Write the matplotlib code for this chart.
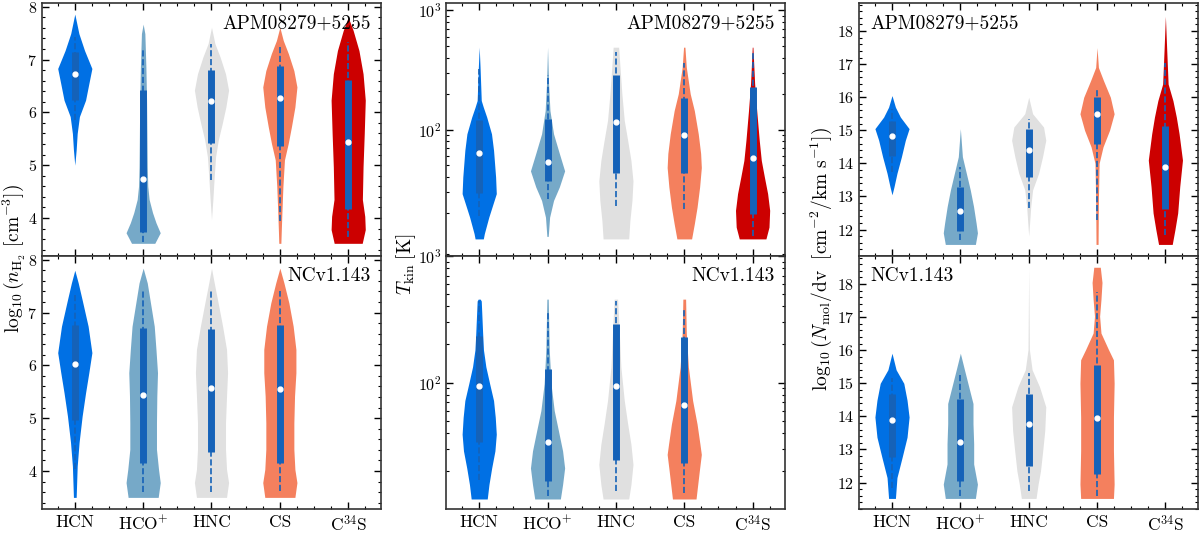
import numpy as np
import matplotlib.pyplot as plt
from matplotlib.ticker import MultipleLocator, NullFormatter

plt.rcParams['font.family'] = 'serif'
plt.rcParams['font.serif'] = ['cmr10']
plt.rcParams['mathtext.fontset'] = 'cm'
plt.rcParams['axes.formatter.use_mathtext'] = True

molecules = ['HCN', r'HCO$^{+}$', 'HNC', 'CS', r'C$^{34}$S']
colors = ['#0070e4', '#76a9c8', '#e0e0e0', '#f4805e', '#cc0000']
box_color = '#1562b8'

# violin outlines (level, relative half width)
# stats = whisker low, q1, median, q3, whisker high

# log10 n_H2, APM08279+5255
nh2_apm_y = [[5.0, 5.29, 5.6, 5.92, 6.23, 6.54, 6.83, 7.17, 7.49, 7.86],
             [3.52, 3.72, 3.91, 4.1, 4.35, 4.6, 4.97, 5.6, 6.23, 6.86, 7.49, 7.67],
             [3.97, 4.35, 4.79, 5.16, 5.48, 5.79, 6.1, 6.42, 6.73, 7.05, 7.3, 7.61],
             [3.52, 3.72, 4.1, 4.6, 5.1, 5.41, 5.73, 6.1, 6.48, 6.79, 7.11, 7.36, 7.61],
             [3.52, 3.78, 4.03, 4.35, 4.97, 5.6, 6.23, 6.73, 7.17, 7.55, 7.8]]
nh2_apm_w = [[0, 0.08, 0.14, 0.27, 0.63, 0.82, 1.0, 0.57, 0.24, 0],
             [0.68, 1.0, 0.75, 0.55, 0.35, 0.27, 0.24, 0.22, 0.2, 0.16, 0.1, 0],
             [0, 0.08, 0.16, 0.24, 0.4, 0.63, 0.84, 1.0, 0.82, 0.5, 0.2, 0],
             [0.06, 0.08, 0.12, 0.18, 0.27, 0.49, 0.68, 0.88, 1.0, 0.82, 0.5, 0.2, 0],
             [0.82, 1.0, 0.97, 0.83, 0.87, 0.94, 1.0, 0.87, 0.63, 0.29, 0]]
nh2_apm_stats = [[5.85, 6.24, 6.72, 7.14, 7.42],
                 [3.54, 3.74, 4.74, 6.43, 7.18],
                 [4.72, 5.41, 6.22, 6.81, 7.3],
                 [3.94, 5.37, 6.27, 6.88, 7.23],
                 [3.64, 4.17, 5.43, 6.61, 7.33]]

# log10 n_H2, NCv1.143
nh2_nc_y = [[3.5, 4.09, 4.54, 5.04, 5.48, 5.86, 6.24, 6.74, 7.24, 7.56, 7.8],
            [3.5, 3.78, 4.03, 4.41, 4.91, 5.42, 5.86, 6.3, 6.74, 7.18, 7.56, 7.84],
            [3.5, 3.78, 4.03, 4.41, 4.91, 5.42, 5.86, 6.3, 6.74, 7.18, 7.56, 7.84],
            [3.5, 3.78, 4.03, 4.41, 4.91, 5.42, 5.86, 6.3, 6.74, 7.18, 7.56, 7.84]]
nh2_nc_w = [[0.08, 0.14, 0.25, 0.43, 0.63, 0.82, 1.0, 0.78, 0.43, 0.2, 0],
            [0.88, 1.0, 0.9, 0.78, 0.78, 0.8, 0.84, 0.75, 0.65, 0.43, 0.24, 0],
            [0.88, 1.0, 0.88, 0.82, 0.82, 0.88, 0.94, 0.88, 0.65, 0.39, 0.16, 0],
            [0.88, 1.0, 0.88, 0.82, 0.82, 0.86, 0.94, 0.94, 0.78, 0.53, 0.24, 0]]
nh2_nc_stats = [[4.03, 4.96, 6.02, 6.77, 7.37],
                [3.6, 4.16, 5.44, 6.71, 7.45],
                [3.6, 4.36, 5.58, 6.69, 7.43],
                [3.62, 4.16, 5.56, 6.77, 7.4]]

# T_kin [K], APM08279+5255
tkin_apm_y = [[12.1, 13.4, 18.4, 29, 40, 67, 92, 127, 154, 175, 333, 490],
              [12.7, 18.4, 25.4, 33, 45, 63, 92, 144, 242, 490],
              [12.1, 17.3, 25.4, 37, 55, 81, 119, 199, 333, 490],
              [12.1, 16.2, 22.3, 33, 48, 63, 92, 144, 199, 333, 490],
              [12.1, 15.2, 21, 29, 40, 55, 81, 144, 242, 490]]
tkin_apm_w = [[0.24, 0.3, 0.56, 1.0, 0.96, 0.84, 0.72, 0.44, 0.24, 0.12, 0.05, 0],
              [0.04, 0.12, 0.35, 0.69, 1.0, 0.69, 0.35, 0.14, 0.06, 0],
              [0.75, 0.82, 0.94, 1.0, 0.88, 0.69, 0.49, 0.35, 0.24, 0.16],
              [0.43, 0.59, 0.75, 0.9, 1.0, 0.96, 0.82, 0.59, 0.35, 0.12, 0.04],
              [0.78, 0.96, 1.0, 0.88, 0.69, 0.51, 0.39, 0.24, 0.12, 0.02]]
tkin_apm_stats = [[19, 29.2, 63.7, 120, 322],
                  [26, 37, 53, 123, 284],
                  [23, 43, 115, 284, 445],
                  [21.6, 43, 90, 184, 364],
                  [12.9, 19.4, 58, 229, 459]]

# T_kin [K], NCv1.143
tkin_nc_y = [[12.0, 15.6, 21.1, 28.8, 39, 53, 72, 98, 133, 181, 247, 441, 456],
             [12.0, 15.6, 21.1, 28.8, 42, 60, 98, 181, 456],
             [12.0, 15.6, 22.5, 32.5, 47, 72, 133, 247, 456],
             [12.0, 19.9, 27, 32.5, 47, 72, 133, 247, 456]]
tkin_nc_w = [[0.47, 0.57, 0.73, 0.92, 1.0, 0.94, 0.84, 0.61, 0.39, 0.25, 0.2, 0.12, 0.06],
             [0.75, 0.88, 1.0, 0.88, 0.63, 0.39, 0.2, 0.1, 0.04],
             [0.75, 0.88, 1.0, 0.88, 0.69, 0.49, 0.29, 0.2, 0.1],
             [0.69, 0.88, 1.0, 0.92, 0.75, 0.49, 0.24, 0.12, 0.08]]
tkin_nc_stats = [[17.1, 34, 94, 232, 441],
                 [12.6, 16.6, 34, 127, 357],
                 [13.8, 24.2, 93.5, 288, 441],
                 [13.3, 23.2, 66, 229, 391]]

# log10 N_mol/dv, APM08279+5255
nmol_apm_y = [[13.05, 13.3, 13.7, 14.2, 14.7, 15.05, 15.4, 15.7, 16.05],
              [11.55, 11.9, 12.2, 12.7, 13.2, 13.7, 14.2, 15.05],
              [11.8, 12.7, 13.2, 13.7, 14.2, 14.7, 15.1, 15.5, 16.0],
              [11.55, 12.9, 14.0, 14.5, 15.0, 15.5, 16.0, 16.5, 16.9, 17.5],
              [11.55, 12.0, 12.5, 13.3, 14.1, 14.9, 15.4, 15.9, 16.4, 17.4, 18.45]]
nmol_apm_w = [[0, 0.12, 0.29, 0.55, 0.78, 1.0, 0.49, 0.2, 0],
              [0.88, 1.0, 0.92, 0.77, 0.58, 0.35, 0.12, 0],
              [0, 0.12, 0.23, 0.58, 0.81, 1.0, 0.87, 0.23, 0],
              [0.06, 0.08, 0.12, 0.35, 0.73, 1.0, 0.78, 0.38, 0.08, 0],
              [0.4, 0.56, 0.72, 0.84, 1.0, 0.8, 0.64, 0.44, 0.16, 0.08, 0]]
nmol_apm_stats = [[13.75, 14.22, 14.82, 15.28, 15.65],
                  [11.68, 11.95, 12.57, 13.3, 13.9],
                  [12.65, 13.6, 14.4, 15.05, 15.35],
                  [12.3, 14.6, 15.48, 16.0, 16.25],
                  [11.85, 12.62, 13.9, 15.12, 17.05]]

# log10 N_mol/dv, NCv1.143
nmol_nc_y = [[11.52, 12.15, 12.76, 13.37, 13.98, 14.49, 15.0, 15.41, 15.91],
             [11.52, 11.95, 12.56, 13.17, 13.78, 14.39, 14.9, 15.41, 15.91],
             [11.52, 11.95, 12.35, 12.96, 13.57, 14.29, 14.9, 15.41, 16.02, 18.51],
             [11.52, 11.95, 12.96, 13.98, 15.0, 15.71, 16.02, 16.52, 17.03, 17.54, 18.05, 18.51]]
nmol_nc_w = [[0.2, 0.29, 0.59, 0.88, 1.0, 0.88, 0.69, 0.24, 0],
             [0.88, 1.0, 0.78, 0.78, 0.74, 0.74, 0.49, 0.24, 0],
             [0.43, 0.55, 0.69, 0.82, 0.94, 1.0, 0.63, 0.2, 0.04, 0],
             [0.96, 1.0, 0.96, 0.96, 1.0, 0.96, 0.67, 0.23, 0.15, 0.23, 0.29, 0.19]]
nmol_nc_stats = [[11.85, 12.76, 13.88, 14.69, 15.15],
                 [11.59, 12.05, 13.24, 14.54, 15.3],
                 [11.75, 12.51, 13.76, 14.67, 15.3],
                 [11.59, 12.27, 13.96, 15.56, 17.75]]


def violins(ax, levels, widths, stats):
    for i, (ys, ws, st) in enumerate(zip(levels, widths, stats)):
        ys = np.array(ys)
        ws = np.array(ws) * 0.25
        ax.fill_betweenx(ys, i - ws, i + ws, color=colors[i], lw=0)
        lo, q1, med, q3, hi = st
        ax.plot([i, i], [lo, hi], ls='--', color=box_color, lw=1.2)
        ax.plot([i, i], [q1, q3], color=box_color, lw=5, solid_capstyle='butt')
        ax.plot(i, med, 'o', ms=3.5, mfc='white', mec='white')


def style(ax, bottom):
    ax.set_xlim(-0.48, 4.48)
    ax.set_xticks(range(5))
    ax.xaxis.set_minor_locator(MultipleLocator(0.25))
    if bottom:
        ax.set_xticklabels(molecules)
    else:
        ax.set_xticklabels([])
    ax.tick_params(which='both', direction='in', top=True, right=True, labelsize=11.5)
    ax.tick_params(axis='x', labelsize=12.5, pad=4)
    ax.tick_params(which='major', length=5, width=1)
    ax.tick_params(which='minor', length=2.5, width=0.8)
    for s in ax.spines.values():
        s.set_linewidth(1.2)
        s.set_color('#333333')


fig = plt.figure(figsize=(12, 5.34), dpi=100)
lefts = [0.035, 0.372, 0.716]
w = 0.2825
top_y, mid_y, bot_y = 0.9944, 0.5206, 0.0468
h = top_y - mid_y

panels = [
    (nh2_apm_y, nh2_apm_w, nh2_apm_stats, nh2_nc_y, nh2_nc_w, nh2_nc_stats),
    (tkin_apm_y, tkin_apm_w, tkin_apm_stats, tkin_nc_y, tkin_nc_w, tkin_nc_stats),
    (nmol_apm_y, nmol_apm_w, nmol_apm_stats, nmol_nc_y, nmol_nc_w, nmol_nc_stats),
]

for c, p in enumerate(panels):
    ax1 = fig.add_axes([lefts[c], mid_y, w, h])
    ax2 = fig.add_axes([lefts[c], bot_y, w, mid_y - bot_y])
    violins(ax1, p[0], p[1], p[2])
    violins(ax2, p[3], p[4], p[5])
    for ax, bottom in [(ax1, False), (ax2, True)]:
        style(ax, bottom)
        if c == 0:
            ax.set_ylim(3.28, 8.07)
            ax.yaxis.set_major_locator(MultipleLocator(1))
            ax.yaxis.set_minor_locator(MultipleLocator(0.2))
        elif c == 2:
            ax.set_ylim(11.2, 18.85)
            ax.yaxis.set_major_locator(MultipleLocator(1))
            ax.yaxis.set_minor_locator(MultipleLocator(0.2))
        else:
            ax.set_yscale('log')
            ax.yaxis.set_minor_formatter(NullFormatter())
    if c == 1:
        ax1.set_ylim(8.7, 1150)
        ax2.set_ylim(10, 1000)
        ax1.set_yticks([100, 1000])
        ax2.set_yticks([100, 1000])
    if c == 2:
        ax1.text(0.033, 0.955, 'APM08279+5255', transform=ax1.transAxes, ha='left', va='top', fontsize=14)
        ax2.text(0.033, 0.955, 'NCv1.143', transform=ax2.transAxes, ha='left', va='top', fontsize=14)
    else:
        ax1.text(0.97, 0.955, 'APM08279+5255', transform=ax1.transAxes, ha='right', va='top', fontsize=14)
        ax2.text(0.97, 0.955, 'NCv1.143', transform=ax2.transAxes, ha='right', va='top', fontsize=14)

fig.text(0.011, 0.515, r'$\log_{10}(n_{\rm H_2}\ [{\rm cm^{-3}}])$', rotation=90, ha='center', va='center', fontsize=14)
fig.text(0.3385, 0.505, r'$T_{\rm kin}\;[{\rm K}]$', rotation=90, ha='center', va='center', fontsize=14)
fig.text(0.684, 0.515, r'$\log_{10}(N_{\rm mol}/{\rm dv}\ \ [{\rm cm^{-2}/km\ s^{-1}}])$', rotation=90, ha='center', va='center', fontsize=14)

fig.savefig('out.png', dpi=100)
